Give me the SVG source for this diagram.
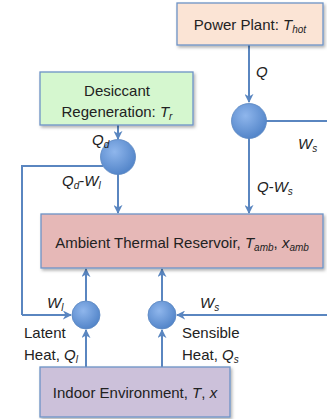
<svg xmlns="http://www.w3.org/2000/svg" width="327" height="419" viewBox="0 0 327 419">
<defs>
<style>
text{font-family:"Liberation Sans","Open Sans",sans-serif;font-size:15px;fill:#222}
.box{stroke:#6d93c6;stroke-width:1.3}
.ln{fill:none;stroke:#5a86c0;stroke-width:2}
.arr{fill:none;stroke:#5a86c0;stroke-width:2;marker-end:url(#ah)}
.sub{font-size:10px;font-style:italic}
.it{font-style:italic}
</style>
<radialGradient id="cg" cx="0.4" cy="0.35" r="0.7">
<stop offset="0" stop-color="#8fb6ec"/>
<stop offset="1" stop-color="#4f82c7"/>
</radialGradient>
<filter id="sh" x="-10%" y="-10%" width="125%" height="130%">
<feDropShadow dx="1.5" dy="2" stdDeviation="1.5" flood-color="#000" flood-opacity="0.3"/>
</filter>
<marker id="ah" viewBox="0 0 10 10" refX="9" refY="5" markerWidth="4.5" markerHeight="4.5" orient="auto" markerUnits="strokeWidth">
<path d="M0,0 L10,5 L0,10 L3,5 z" fill="#5a86c0"/>
</marker>
</defs>
<g id="connectors">
<path class="arr" d="M249,45 V102"/>
<path class="ln" d="M266,121 H327"/>
<path class="arr" d="M249,138 V213"/>
<path class="arr" d="M118,125 V139"/>
<path class="arr" d="M118,174 V213"/>
<path class="ln" d="M103,166 H22 V315"/>
<path class="arr" d="M22,315 H71"/>
<path class="arr" d="M327,315 H177"/>
<path class="arr" d="M86,367 V330"/>
<path class="arr" d="M162,367 V330"/>
<path class="arr" d="M86,301 V269"/>
<path class="arr" d="M162,301 V269"/>
</g>
<g id="power-plant">
<rect class="box" x="177" y="3" width="146" height="42" fill="#fbe4d5" filter="url(#sh)"/>
<text x="250" y="30" text-anchor="middle">Power Plant: <tspan class="it">T</tspan><tspan class="sub" dy="3">hot</tspan></text>
</g>
<g id="desiccant">
<rect class="box" x="40" y="72" width="153" height="53" fill="#d5f7cf" filter="url(#sh)"/>
<text x="117" y="96" text-anchor="middle">Desiccant</text>
<text x="117" y="117" text-anchor="middle">Regeneration: <tspan class="it">T</tspan><tspan class="sub" dy="3">r</tspan></text>
</g>
<g id="reservoir">
<rect class="box" x="41" y="214" width="282" height="54" fill="#e6b8b7" filter="url(#sh)"/>
<text x="182" y="248" text-anchor="middle">Ambient Thermal Reservoir, <tspan class="it">T</tspan><tspan class="sub" dy="3">amb</tspan><tspan dy="-3">, </tspan><tspan class="it">x</tspan><tspan class="sub" dy="3">amb</tspan></text>
</g>
<g id="indoor">
<rect class="box" x="40" y="367" width="190" height="50" fill="#ccc1da" filter="url(#sh)"/>
<text x="135" y="398" text-anchor="middle">Indoor Environment, <tspan class="it">T</tspan>, <tspan class="it">x</tspan></text>
</g>
<g id="junction-power">
<circle cx="249" cy="121" r="17.5" fill="url(#cg)" stroke="#5a86c0" stroke-width="0.8"/>
</g>
<g id="junction-desiccant">
<circle cx="118" cy="157" r="17.5" fill="url(#cg)" stroke="#5a86c0" stroke-width="0.8"/>
</g>
<g id="junction-latent">
<circle cx="86" cy="315" r="14" fill="url(#cg)" stroke="#5a86c0" stroke-width="0.8"/>
</g>
<g id="junction-sensible">
<circle cx="162" cy="315" r="14" fill="url(#cg)" stroke="#5a86c0" stroke-width="0.8"/>
</g>
<g id="labels">
<text x="256" y="77" class="it">Q</text>
<text x="298" y="149" class="it">W<tspan class="sub" dy="3">s</tspan></text>
<text x="257" y="192" class="it">Q<tspan font-style="normal">-</tspan>W<tspan class="sub" dy="3">s</tspan></text>
<text x="92" y="145" class="it">Q<tspan class="sub" dy="3">d</tspan></text>
<text x="62" y="186" class="it">Q<tspan class="sub" dy="3">d</tspan><tspan dy="-3" font-style="normal">-</tspan>W<tspan class="sub" dy="3">l</tspan></text>
<text x="47" y="308" class="it">W<tspan class="sub" dy="3">l</tspan></text>
<text x="200" y="308" class="it">W<tspan class="sub" dy="3">s</tspan></text>
<text x="24" y="338">Latent</text>
<text x="24" y="360">Heat, <tspan class="it">Q</tspan><tspan class="sub" dy="3">l</tspan></text>
<text x="182" y="338">Sensible</text>
<text x="182" y="360">Heat, <tspan class="it">Q</tspan><tspan class="sub" dy="3">s</tspan></text>
</g>
</svg>
